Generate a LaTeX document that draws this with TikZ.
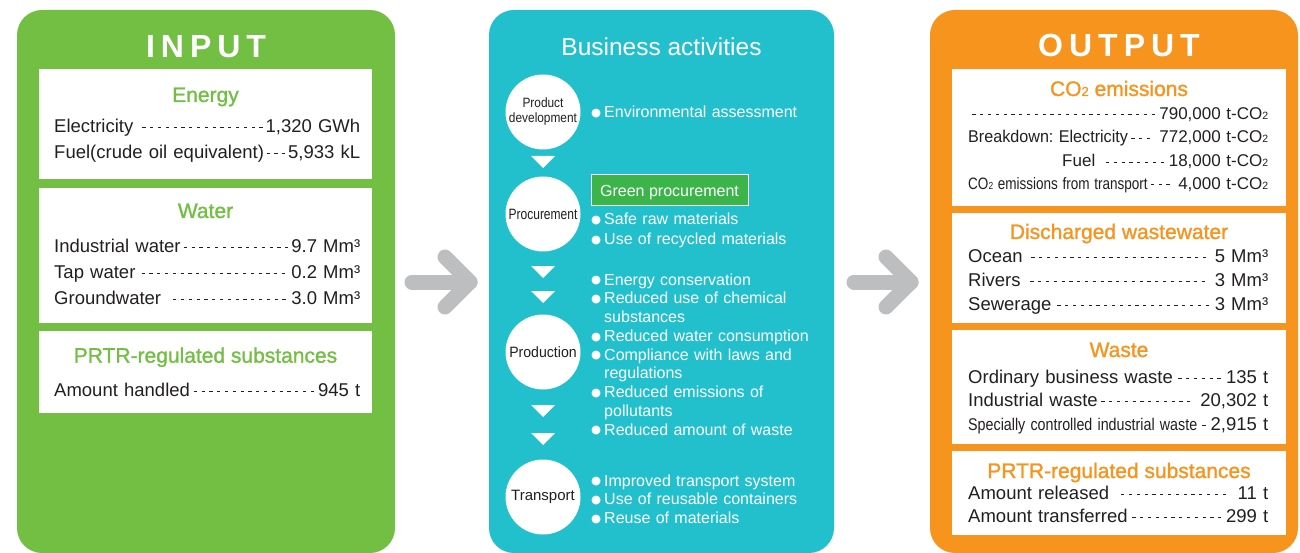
\documentclass[tikz,border=0pt]{standalone}
\usepackage{fontspec}
\setmainfont{Liberation Sans}
\newfontfamily\symfont{DejaVu Sans}
\newfontfamily\headfont[FakeBold=1.2]{Liberation Sans}
\usepackage{graphicx}
\usepackage{xcolor}
\usepackage{tikz}
\usetikzlibrary{backgrounds}
\definecolor{ingreen}{RGB}{114,191,68}
\definecolor{bizcyan}{RGB}{34,191,205}
\definecolor{outorange}{RGB}{247,148,30}
\definecolor{procgreen}{RGB}{59,181,74}
\definecolor{arrowgray}{RGB}{189,190,192}
\definecolor{textdark}{RGB}{35,31,32}
\newcommand\leaderdash{\leavevmode\cleaders\hbox to 7.8pt{\hss\rule[0.25em]{3.2pt}{0.8pt}\hss}\hfill}
\newcommand\two{\scalebox{0.62}{2}}
\newcommand\narrow[2]{\scalebox{#1}[1]{#2}}
\newcommand\bul{\makebox[13pt][l]{\raisebox{1.2pt}{\symfont\fontsize{11.5}{11}\selectfont ●}}}
\newcommand\cont{\hspace*{13pt}}
\tikzstyle{panel}=[rectangle, rounded corners=25pt, inner sep=0pt, minimum height=543pt]
\tikzstyle{databox}=[rectangle, fill=white, inner sep=0pt]
\tikzstyle{paneltitle}=[anchor=base, inner sep=0pt, text=white,
        font=\bfseries\fontsize{32}{32}\selectfont]
\tikzstyle{heading}=[anchor=base, inner sep=0pt, font=\headfont\fontsize{21}{21}\selectfont]
\tikzstyle{datarow}=[anchor=base west, inner sep=0pt, text=textdark,
        font=\fontsize{18.5}{20}\selectfont]
\tikzstyle{stage}=[circle, fill=white, minimum size=75pt, inner sep=0pt,
        align=center, text=textdark, font=\fontsize{15}{15}\selectfont]
\tikzstyle{measures}=[anchor=base west, inner sep=0pt, text width=235pt,
        align=left, text=white, font=\fontsize{16}{18.75}\selectfont]
\tikzstyle{bigarrow}=[draw=arrowgray, line width=15pt, line cap=round, line join=round]

\begin{document}
\begin{tikzpicture}[x=1pt, y=-1pt]
      \useasboundingbox (0,0) rectangle (1300,553);
      % White boxes
      \node [databox, minimum width=333pt, minimum height=110pt] (energybox) at (205.5,124) {};
      \node [databox, minimum width=333pt, minimum height=135pt] (waterbox) at (205.5,255.5) {};
      \node [databox, minimum width=333pt, minimum height=82pt] (inprtrbox) at (205.5,372) {};
      \node [databox, minimum width=334pt, minimum height=137pt] (co2box) at (1119,137.5) {};
      \node [databox, minimum width=334pt, minimum height=110pt] (wastewaterbox) at (1119,268) {};
      \node [databox, minimum width=334pt, minimum height=114pt] (wastebox) at (1119,387) {};
      \node [databox, minimum width=334pt, minimum height=84pt] (outprtrbox) at (1119,493) {};
      % Input
      \node [paneltitle] (intitle) at (206,57.3) {I\kern6ptN\kern6ptP\kern6ptU\kern6ptT};
      \node [heading, text=ingreen] (energyhead) at (205.5,102) {Energy};
      \node [datarow, text width=306pt] (elec) at (54,132.3) {Electricity \leaderdash 1,320 GWh};
      \node [datarow, text width=306pt] (fuel) at (54,158.3) {Fuel(crude oil equivalent)\leaderdash 5,933 kL};
      \node [heading, text=ingreen] (waterhead) at (205.5,218) {Water};
      \node [datarow, text width=306pt] (indwater) at (54,252.3) {Industrial water\leaderdash 9.7 Mm³};
      \node [datarow, text width=306pt] (tapwater) at (54,278.3) {Tap water\leaderdash 0.2 Mm³};
      \node [datarow, text width=306pt] (groundwater) at (54,304.5) {Groundwater \leaderdash 3.0 Mm³};
      \node [heading, text=ingreen] (inprtrhead) at (205.5,362.7) {PRTR-regulated substances};
      \node [datarow, text width=306pt] (handled) at (54,396) {Amount handled\leaderdash 945 t};
      % Business activities
      \node [paneltitle, font=\fontsize{24.5}{24.5}\selectfont] (biztitle) at (661.5,56) {Business activities};
      \node [stage, font=\fontsize{13.5}{15}\selectfont] (dev) at (543,112)
            {\narrow{0.88}{Product}\\\narrow{0.88}{development}};
      \node [stage] (proc) at (543,214) {\narrow{0.8}{Procurement}};
      \node [stage] (prod) at (543,352) {\narrow{0.94}{Production}};
      \node [stage] (trans) at (543,497) {Transport};
      \foreach \ty in {156,266,291,405,433}
        \fill [white] (531,\ty) -- ++(24,0) -- ++(-12,12) -- cycle;
      \node [measures] (devlist) at (591,117.3) {\bul Environmental assessment};
      \node [rectangle, fill=procgreen, draw=white, line width=1pt, inner sep=0pt,
             minimum width=157pt, minimum height=31pt, text depth=0pt, text=white,
             font=\fontsize{16}{16}\selectfont] (greenproc) at (669.5,190.5) {Green procurement};
      \node [measures, font=\fontsize{16}{19.3}\selectfont] (proclist) at (591,225)
            {\bul Safe raw materials\\\bul Use of recycled materials};
      \node [measures] (prodlist) at (591,285)
            {\bul Energy conservation\\\bul Reduced use of chemical\\\cont substances\\
             \bul Reduced water consumption\\\bul Compliance with laws and\\\cont regulations\\
             \bul Reduced emissions of\\\cont pollutants\\\bul Reduced amount of waste};
      \node [measures] (translist) at (591,486)
            {\bul Improved transport system\\\bul Use of reusable containers\\\bul Reuse of materials};
      % Output
      \node [paneltitle] (outtitle) at (1119,56.7) {O\kern6ptU\kern6ptT\kern6ptP\kern6ptU\kern6ptT};
      \node [heading, text=outorange] (co2head) at (1119,96) {CO\two\ emissions};
      \node [datarow, text width=300pt, font=\fontsize{17}{18}\selectfont] (co2total) at (968,119.3)
            {\leaderdash 790,000 t-CO\two};
      \node [datarow, text width=300pt, font=\fontsize{17}{18}\selectfont] (co2elec) at (968,142.7)
            {\narrow{0.95}{Breakdown:\ Electricity}\leaderdash\ 772,000 t-CO\two};
      \node [datarow, text width=206pt, font=\fontsize{17}{18}\selectfont] (co2fuel) at (1062,166.7)
            {Fuel \leaderdash 18,000 t-CO\two};
      \node [datarow, text width=300pt, font=\fontsize{17}{18}\selectfont] (co2trans) at (968,189.3)
            {{\fontsize{16.5}{16.5}\selectfont\narrow{0.82}{CO\two\ emissions from transport}}\leaderdash\ 4,000 t-CO\two};
      \node [heading, text=outorange] (wastewaterhead) at (1119,239) {Discharged wastewater};
      \node [datarow, text width=300pt] (ocean) at (968,262.7) {Ocean \leaderdash\ 5 Mm³};
      \node [datarow, text width=300pt] (rivers) at (968,286) {Rivers \leaderdash\ 3 Mm³};
      \node [datarow, text width=300pt] (sewerage) at (968,310) {Sewerage\leaderdash 3 Mm³};
      \node [heading, text=outorange] (wastehead) at (1119,357) {Waste};
      \node [datarow, text width=300pt] (ordinary) at (968,383.3) {Ordinary business waste\leaderdash 135 t};
      \node [datarow, text width=300pt] (industrial) at (968,406.7) {Industrial waste\leaderdash\ 20,302 t};
      \node [datarow, text width=300pt] (special) at (968,430.7)
            {{\fontsize{17}{17}\selectfont\narrow{0.84}{Specially controlled industrial waste}}\leaderdash 2,915 t};
      \node [heading, text=outorange] (outprtrhead) at (1119,478) {PRTR-regulated substances};
      \node [datarow, text width=300pt] (released) at (968,499.3) {Amount released \leaderdash\ 11 t};
      \node [datarow, text width=300pt] (transferred) at (968,522.7) {Amount transferred\leaderdash 299 t};
      % Draw arrows
      \coordinate (inarrowstart) at (412,282);
      \coordinate (inarrowtip) at (470,282);
      \coordinate (outarrowstart) at (854,282);
      \coordinate (outarrowtip) at (911,282);
      \draw [bigarrow] (inarrowstart) -- (inarrowtip);
      \draw [bigarrow] (inarrowtip) ++(-25,-25) -- (inarrowtip) -- ++(-25,25);
      \draw [bigarrow] (outarrowstart) -- (outarrowtip);
      \draw [bigarrow] (outarrowtip) ++(-25,-25) -- (outarrowtip) -- ++(-25,25);
      \begin{pgfonlayer}{background}
        \fill [white] (0,0) rectangle (1300,553);
        \node [panel, fill=ingreen, minimum width=378pt] (inpanel) at (206,281.5) {};
        \node [panel, fill=bizcyan, minimum width=345pt] (bizpanel) at (661.5,281.5) {};
        \node [panel, fill=outorange, minimum width=368pt] (outpanel) at (1114,281.5) {};
      \end{pgfonlayer}

    \end{tikzpicture}
\end{document}
